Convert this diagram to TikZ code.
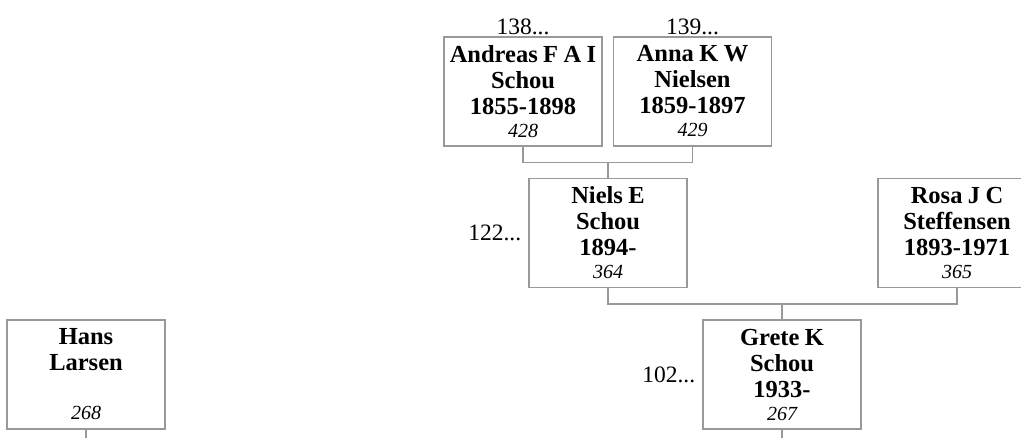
\documentclass[tikz,border=0pt]{standalone}
\usepackage{fontspec}
\setmainfont{Liberation Serif}
\usetikzlibrary{positioning}
\definecolor{cLine}{HTML}{999999}
\newcommand{\namefont}{\fontsize{24.5}{26}\selectfont\bfseries
    \spaceskip=0.22em plus 0.05em\relax}
\newcommand{\idnr}[1]{\\[-3pt]{\mdseries\itshape\fontsize{20}{22}\selectfont #1}}
\tikzset{
    person/.style={draw=cLine, line width=1.2pt, fill=white, align=center,
                   minimum width=158pt, minimum height=109pt, inner sep=0pt,
                   font={\namefont}},
    link/.style={draw=cLine, line width=1.2pt},
    num/.style={font=\fontsize{23.5}{26}\selectfont, inner sep=1pt},
}

\begin{document}
\begin{tikzpicture}[x=1pt, y=-1pt]

\useasboundingbox (0,0) rectangle (1021,438);
\clip (0,0) rectangle (1021,438);

% grandparents
\node[person] (andreas) at (523,91.5) {Andreas F A I\\Schou\\1855-1898\idnr{428}};
\node[person] (anna) at (692.5,91.5) {Anna K W\\Nielsen\\1859-1897\idnr{429}};
\node[num, above=0pt of andreas] (andreasNr) {138...};
\node[num, above=0pt of anna] (annaNr) {139...};

% parents
\node[person] (niels) at (608,233) {Niels E\\Schou\\1894-\idnr{364}};
\node[person] (rosa) at (957,233) {Rosa J C\\Steffensen\\1893-1971\idnr{365}};
\node[num, left=6pt of niels] (nielsNr) {122...};

% couple
\node[person] (grete) at (782,374.5) {Grete K\\Schou\\1933-\idnr{267}};
\node[person] (hans) at (86,374.5) {Hans\\Larsen\\\mbox{}\idnr{268}};
\node[num, left=6pt of grete] (greteNr) {102...};

% forks from parents to child
\draw[link] (andreas.south) -- ++(0,16) -| (anna.south);
\draw[link] (niels.north) -- ++(0,-16);
\draw[link] (niels.south) -- ++(0,16) -| (rosa.south);
\draw[link] (grete.north) -- ++(0,-16);

% lines on to the next generation
\coordinate (hansEnd) at (86,440);
\coordinate (greteEnd) at (782,440);
\draw[link] (hans.south) -- (hansEnd);
\draw[link] (grete.south) -- (greteEnd);

\end{tikzpicture}
\end{document}
